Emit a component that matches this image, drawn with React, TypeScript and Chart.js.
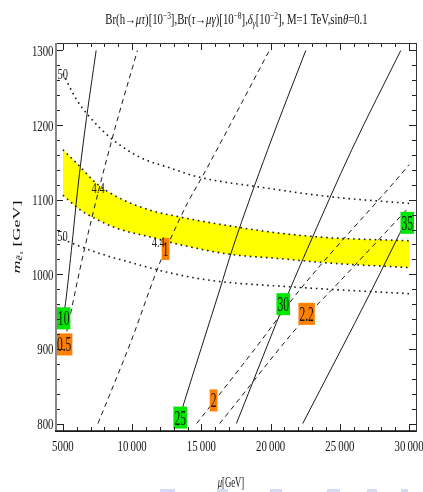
import React, { useEffect, useRef } from 'react';
import { Chart, registerables } from 'chart.js';
Chart.register(...registerables);

// ---- axes ----
const xMin = 4500, xMax = 30500;
const yMin = 790, yMax = 1310;
const xTicks = [5000, 10000, 15000, 20000, 25000, 30000];
const xTickLabels = ['5000', '10\u2009000', '15\u2009000', '20\u2009000', '25\u2009000', '30\u2009000'];
const yTicks = [800, 900, 1000, 1100, 1200, 1300];
const yTickLabels = ['800', '900', '1000', '1100', '1200', '1300'];
const xMinorStep = 1000;
const yMinorStep = 20;

// ---- yellow band (δγ = 4.4 edges) ----
const bandX = [5000, 6200, 7400, 9000, 11300, 13400, 17000, 20700, 24300, 30000];
const bandTop = [1167, 1145, 1122, 1103, 1086, 1077, 1065, 1055, 1049, 1045];
const bandBottom = [1106, 1087, 1074, 1061, 1050, 1040, 1027, 1021, 1015, 1009];

// ---- dotted contours (50) ----
const dotUpperX = [5000, 5990, 6930, 8370, 10540, 12490, 14880, 19210, 24270, 30000];
const dotUpperY = [1269, 1234, 1211, 1184, 1157, 1144, 1130, 1117, 1104, 1095];
const dotLowerX = [5000, 5610, 7650, 10060, 12470, 15600, 21620, 30000];
const dotLowerY = [1047, 1042, 1028, 1015, 1003, 992, 983, 974];

// ---- solid contours: Br(h→μτ) ----
const solid10X = [5000, 5120, 5610, 6060, 6600, 7400];
const solid10Y = [940, 952, 1032, 1113, 1195, 1300];
const solid25X = [13290, 13650, 16320, 17260, 19790, 22540];
const solid25Y = [800, 822, 979, 1035, 1167, 1300];
const solid30X = [17530, 21380, 22680, 25860, 29400];
const solid30Y = [800, 979, 1035, 1167, 1300];
const solid35X = [22320, 27300, 29330, 30000];
const solid35Y = [800, 979, 1055, 1080];

// ---- dashed contours: Br(τ→μγ) ----
const dash05X = [5000, 5250, 6570, 8590, 10380];
const dash05Y = [900, 921, 1035, 1184, 1300];
const dash1X = [7530, 10040, 11260, 11990, 12830, 14010, 15070, 19910];
const dash1Y = [800, 916, 979, 1015, 1050, 1096, 1131, 1300];
const dash2X = [14660, 18780, 22100, 29690, 30000];
const dash2Y = [800, 898, 979, 1140, 1147];
const dash22X = [16320, 22750, 24510, 30000];
const dash22Y = [800, 947, 981, 1090];

// ---- contour labels ----
const boxLabelText = ['10', '25', '30', '35', '0.5', '1', '2', '2.2'];
const boxLabelX = [5051, 13468, 20910, 29870, 5087, 12413, 15881, 22600];
const boxLabelY = [941, 808, 960, 1069, 906, 1034, 831, 947];
const boxLabelKind = ['g', 'g', 'g', 'g', 'o', 'o', 'o', 'o'];
const plainLabelText = ['50', '50', '4.4', '4.4'];
const plainLabelX = [4990, 4970, 7546, 11883];
const plainLabelY = [1269, 1051, 1116, 1043];

const SERIF = '"Liberation Serif", "Times New Roman", serif';

const pts = (xs: number[], ys: number[]) => xs.map((x, i) => ({ x, y: ys[i] }));

function sText(ctx: CanvasRenderingContext2D, text: string, x: number, y: number, font: string, sx: number, align: CanvasTextAlign) {
  ctx.save();
  ctx.font = font;
  ctx.translate(x, y);
  ctx.scale(sx, 1);
  ctx.textAlign = align;
  ctx.textBaseline = 'alphabetic';
  ctx.fillText(text, 0, 0);
  ctx.restore();
}

type Run = { t: string; font: string; dy: number };

function drawRuns(ctx: CanvasRenderingContext2D, runs: Run[], cx: number, baseline: number, sx: number) {
  let total = 0;
  const widths = runs.map((r) => {
    ctx.font = r.font;
    const w = ctx.measureText(r.t).width;
    total += w;
    return w;
  });
  ctx.save();
  ctx.translate(cx, baseline);
  ctx.scale(sx, 1);
  let x = -total / 2;
  ctx.textAlign = 'left';
  ctx.textBaseline = 'alphabetic';
  runs.forEach((r, i) => {
    ctx.font = r.font;
    ctx.fillText(r.t, x, r.dy);
    x += widths[i];
  });
  ctx.restore();
}

const framePlugin = {
  id: 'frame',
  afterDraw(chart: any) {
    const { ctx, chartArea: a, scales } = chart;
    const xs = scales.x, ys = scales.y;
    ctx.save();
    ctx.strokeStyle = '#222';
    ctx.lineWidth = 1;
    ctx.beginPath();
    for (let v = xTicks[0]; v <= xTicks[xTicks.length - 1]; v += xMinorStep) {
      const px = Math.round(xs.getPixelForValue(v)) + 0.5;
      const len = v % 5000 === 0 ? 7 : 4;
      ctx.moveTo(px, a.bottom); ctx.lineTo(px, a.bottom - len);
      ctx.moveTo(px, a.top); ctx.lineTo(px, a.top + len);
    }
    for (let v = yTicks[0]; v <= yTicks[yTicks.length - 1]; v += yMinorStep) {
      const py = Math.round(ys.getPixelForValue(v)) + 0.5;
      const len = v % 100 === 0 ? 7 : 4;
      ctx.moveTo(a.left, py); ctx.lineTo(a.left + len, py);
      ctx.moveTo(a.right, py); ctx.lineTo(a.right - len, py);
    }
    ctx.stroke();
    // frame
    ctx.strokeStyle = '#333';
    ctx.lineWidth = 1;
    ctx.strokeRect(Math.round(a.left) + 0.5, Math.round(a.top) + 0.5, Math.round(a.right - a.left), Math.round(a.bottom - a.top));
    ctx.strokeStyle = '#888';
    ctx.lineWidth = 2;
    ctx.beginPath();
    ctx.moveTo(a.left, a.top); ctx.lineTo(a.left, a.bottom + 1);
    ctx.stroke();
    ctx.strokeStyle = '#111';
    ctx.lineWidth = 1.5;
    ctx.beginPath();
    ctx.moveTo(a.left - 1, a.bottom); ctx.lineTo(a.right, a.bottom);
    ctx.stroke();

    // tick labels
    ctx.fillStyle = '#111';
    const tickFont = `15px ${SERIF}`;
    xTicks.forEach((v, i) => {
      sText(ctx, xTickLabels[i], xs.getPixelForValue(v), a.bottom + 20, tickFont, 0.72, 'center');
    });
    yTicks.forEach((v, i) => {
      sText(ctx, yTickLabels[i], a.left - 2.5, ys.getPixelForValue(v) + 5.5, tickFont, 0.72, 'right');
    });

    // title
    const tf = `13.8px ${SERIF}`;
    const ti = `italic 13.8px ${SERIF}`;
    const sf = `9.5px ${SERIF}`;
    const si = `italic 9.5px ${SERIF}`;
    const runs: Run[] = [
      { t: 'Br(h\u2192', font: tf, dy: 0 },
      { t: '\u03bc\u03c4', font: ti, dy: 0 },
      { t: ')[10', font: tf, dy: 0 },
      { t: '\u22123', font: sf, dy: -5.5 },
      { t: '],Br(', font: tf, dy: 0 },
      { t: '\u03c4', font: ti, dy: 0 },
      { t: '\u2192', font: tf, dy: 0 },
      { t: '\u03bc\u03b3', font: ti, dy: 0 },
      { t: ')[10', font: tf, dy: 0 },
      { t: '\u22128', font: sf, dy: -5.5 },
      { t: '],', font: tf, dy: 0 },
      { t: '\u03b4', font: ti, dy: 0 },
      { t: '\u03b3', font: si, dy: 3 },
      { t: '[10', font: tf, dy: 0 },
      { t: '\u22122', font: sf, dy: -5.5 },
      { t: '], M=1 TeV,sin', font: tf, dy: 0 },
      { t: '\u03b8', font: ti, dy: 0 },
      { t: '=0.1', font: tf, dy: 0 },
    ];
    drawRuns(ctx, runs, 236.5, 24, 0.78);

    // x axis title
    drawRuns(ctx, [
      { t: '\u03bc', font: `italic 14px ${SERIF}`, dy: 0 },
      { t: '[GeV]', font: `14px ${SERIF}`, dy: 0 },
    ], 231, 487, 0.62);

    // y axis title (rotated)
    ctx.save();
    ctx.translate(19.5, 237);
    ctx.rotate(-Math.PI / 2);
    ctx.scale(1, 0.61);
    drawRuns(ctx, [
      { t: 'm', font: `italic 18px ${SERIF}`, dy: 0 },
      { t: '\u1ebd', font: `italic 12px ${SERIF}`, dy: 3.5 },
      { t: '1', font: `8px ${SERIF}`, dy: 6 },
      { t: ' [GeV]', font: `18px ${SERIF}`, dy: 0 },
    ], 0, 0, 1);
    ctx.restore();

    // faint marks at the bottom edge
    ctx.fillStyle = 'rgb(214,217,246)';
    [[160, 15], [217, 11], [270, 12], [327, 13], [367, 10], [401, 7]].forEach(([x, w]) => ctx.fillRect(x, 489, w, 3));
    ctx.restore();
  },
};

const labelsPlugin = {
  id: 'contourLabels',
  afterDatasetsDraw(chart: any) {
    const { ctx, scales } = chart;
    const xs = scales.x, ys = scales.y;
    ctx.save();
    const bf = `21px ${SERIF}`;
    const bsx = 0.55;
    boxLabelText.forEach((t, i) => {
      const cx = xs.getPixelForValue(boxLabelX[i]);
      const cy = ys.getPixelForValue(boxLabelY[i]);
      ctx.font = bf;
      const w = ctx.measureText(t).width * bsx + 2;
      const h = 22;
      ctx.fillStyle = boxLabelKind[i] === 'g' ? 'rgb(0,232,0)' : 'rgb(255,128,0)';
      ctx.fillRect(cx - w / 2, cy - h / 2, w, h);
      ctx.fillStyle = '#111';
      sText(ctx, t, cx, cy + 7, bf, bsx, 'center');
    });
    ctx.fillStyle = '#222';
    plainLabelText.forEach((t, i) => {
      const cx = xs.getPixelForValue(plainLabelX[i]);
      const cy = ys.getPixelForValue(plainLabelY[i]);
      sText(ctx, t, cx, cy + 5, `15px ${SERIF}`, 0.7, 'center');
    });
    ctx.restore();
  },
};

function line(xs: number[], ys: number[], style: 'solid' | 'dashed' | 'dotted', extra: any = {}) {
  const base: any = {
    data: pts(xs, ys),
    showLine: true,
    pointRadius: 0,
    borderColor: '#1a1a1a',
    borderWidth: 1,
    cubicInterpolationMode: 'monotone',
    fill: false,
  };
  if (style === 'dashed') base.borderDash = [5, 4];
  if (style === 'dotted') { base.borderDash = [1.6, 3.8]; base.borderWidth = 1.6; }
  return { ...base, ...extra };
}

export default function App() {
  const ref = useRef<HTMLCanvasElement>(null);
  useEffect(() => {
    const chart = new Chart(ref.current as HTMLCanvasElement, {
      type: 'scatter',
      data: {
        datasets: [
          line(bandX, bandTop, 'dotted', { fill: '+1', backgroundColor: 'rgb(255,255,0)' }),
          line(bandX, bandBottom, 'dotted'),
          line(dotUpperX, dotUpperY, 'dotted'),
          line(dotLowerX, dotLowerY, 'dotted'),
          line(solid10X, solid10Y, 'solid'),
          line(solid25X, solid25Y, 'solid'),
          line(solid30X, solid30Y, 'solid'),
          line(solid35X, solid35Y, 'solid'),
          line(dash05X, dash05Y, 'dashed'),
          line(dash1X, dash1Y, 'dashed'),
          line(dash2X, dash2Y, 'dashed'),
          line(dash22X, dash22Y, 'dashed'),
        ],
      },
      options: {
        responsive: false,
        animation: false,
        events: [],
        layout: { padding: { left: 56, right: 7, top: 43, bottom: 61 } },
        scales: {
          x: { type: 'linear', min: xMin, max: xMax, display: false },
          y: { type: 'linear', min: yMin, max: yMax, display: false },
        },
        plugins: {
          legend: { display: false },
          tooltip: { enabled: false },
          filler: { propagate: false, drawTime: 'beforeDatasetsDraw' },
        },
      } as any,
      plugins: [framePlugin, labelsPlugin],
    });
    return () => chart.destroy();
  }, []);
  return (
    <div style={{ position: 'absolute', left: 0, top: 0, width: 423, height: 492, background: '#fff' }}>
      <canvas ref={ref} width={423} height={492} style={{ display: 'block', width: 423, height: 492 }} />
    </div>
  );
}
